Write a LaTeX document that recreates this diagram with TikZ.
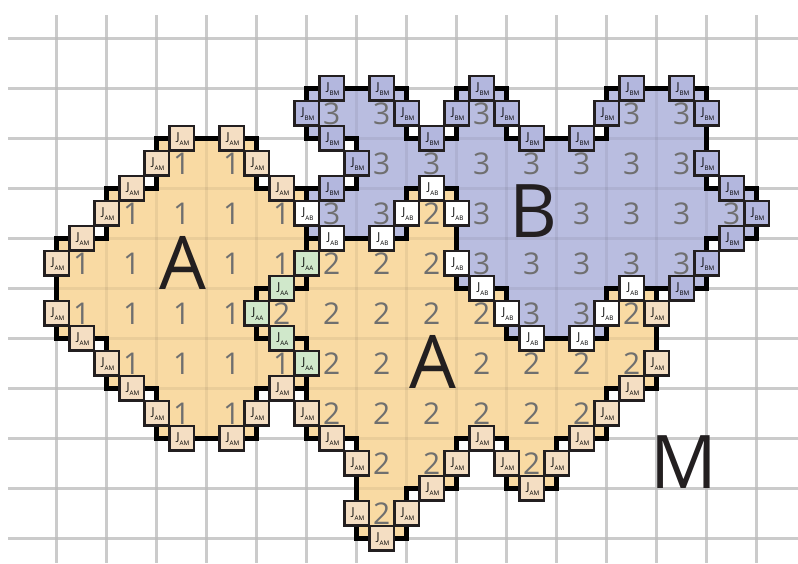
\documentclass[tikz,border=0pt]{standalone}
\usepackage{fontspec}
\setmainfont{Open Sans}
\definecolor{gridc}{HTML}{D8D8D8}
\definecolor{fillA}{HTML}{F9DAA3}
\definecolor{fillB}{HTML}{B9BDE0}
\definecolor{JAM}{HTML}{F4DEC3}
\definecolor{JBM}{HTML}{B3B7DE}
\definecolor{JAA}{HTML}{D0E8CB}
\definecolor{JAB}{HTML}{FFFFFF}
\definecolor{ink}{HTML}{231F20}
\definecolor{numc}{HTML}{6F6F6F}
% 11 rows x 16 columns: 0 = medium M, 1 and 2 = cells of type A, 3 = cell of type B
\def\cpmgrid{{%
0,0,0,0,0,0,0,0,0,0,0,0,0,0,0,0,%
0,0,0,0,0,0,3,3,0,3,0,0,3,3,0,0,%
0,0,0,1,1,0,0,3,3,3,3,3,3,3,0,0,%
0,0,1,1,1,1,3,3,2,3,3,3,3,3,3,0,%
0,1,1,1,1,1,2,2,2,3,3,3,3,3,0,0,%
0,1,1,1,1,2,2,2,2,2,3,3,2,0,0,0,%
0,0,1,1,1,1,2,2,2,2,2,2,2,0,0,0,%
0,0,0,1,1,0,2,2,2,2,2,2,0,0,0,0,%
0,0,0,0,0,0,0,2,2,0,2,0,0,0,0,0,%
0,0,0,0,0,0,0,2,0,0,0,0,0,0,0,0,%
0,0,0,0,0,0,0,0,0,0,0,0,0,0,0,0}}
\newcommand\jclass[2]{%
 \pgfmathtruncatemacro\jta{(#1==3)?2:((#1>0)?1:0)}%
 \pgfmathtruncatemacro\jtb{(#2==3)?2:((#2>0)?1:0)}%
 \pgfmathtruncatemacro\jcode{min(\jta,\jtb)*3+max(\jta,\jtb)}%
 \ifcase\jcode\def\jst{AM}\or\def\jst{AM}\or\def\jst{BM}\or\def\jst{AM}\or\def\jst{AA}\or\def\jst{AB}\else\def\jst{AM}\fi}
\newcommand\jlab[1]{\makebox[0pt]{\raisebox{-1.8pt}[0pt][0pt]{\hspace{2.5pt}\fontsize{11}{11}\selectfont J\raisebox{-5pt}{\fontsize{6.3}{6.3}\selectfont #1}}}}
\tikzset{
 gridline/.style={draw=gridc, line width=3pt},
 gridover/.style={draw=black, draw opacity=0.06, line width=3pt},
 bound/.style={draw=black, line width=4.8pt, line cap=rect},
 jbox/.style={draw=ink, line width=2.4pt, fill=J#1, minimum size=24.5pt, inner sep=0pt, outer sep=0pt},
 num/.style={text=numc, font=\fontsize{30}{30}\selectfont, inner sep=0pt},
 big/.style={text=ink, font=\fontsize{74}{74}\selectfont, inner sep=0pt},
}
\begin{document}
\begin{tikzpicture}[x=1pt,y=-1pt]
\useasboundingbox (0,0) rectangle (798,563);
% grid
\foreach \k in {0,...,10} \draw[gridline] (8,{38.3+50*\k}) -- (798,{38.3+50*\k});
\foreach \k in {0,...,14} \draw[gridline] ({56.7+50*\k},15) -- ({56.7+50*\k},563);
% cell fills
\foreach \rr in {1,...,9}{\foreach \cc in {0,...,15}{
  \pgfmathtruncatemacro\vid{\cpmgrid[\rr*16+\cc]}
  \ifnum\vid>0
    \ifnum\vid=3 \def\fc{fillB}\else\def\fc{fillA}\fi
    \fill[\fc, draw=\fc, line width=0.4pt] ({6.7+50*\cc},{38.3+50*\rr}) rectangle ++(50,50);
  \fi
}}
% faint grid over fills
\foreach \k in {0,...,10} \draw[gridover] (8,{38.3+50*\k}) -- (798,{38.3+50*\k});
\foreach \k in {0,...,14} \draw[gridover] ({56.7+50*\k},15) -- ({56.7+50*\k},563);
% numbers
\foreach \rr in {1,...,9}{\foreach \cc in {0,...,15}{
  \pgfmathtruncatemacro\vid{\cpmgrid[\rr*16+\cc]}
  \pgfmathtruncatemacro\jskip{((\rr==4)&&(\cc==3))||((\rr==6)&&(\cc==8))||((\rr==3)&&(\cc==10))}
  \ifnum\vid>0 \ifnum\jskip=0
    \node[num] (n-\rr-\cc) at ({31.7+50*\cc},{63.3+50*\rr}) {\vid};
  \fi\fi
}}
% big letters
\node[big] (bigA1) at (183,263.3) {A};
\node[big] (bigA2) at (433,362) {A};
\node[big] (bigB) at (533,211) {B};
\node[big] (bigM) at (684,462) {M};
% boundaries
\foreach \rr in {0,...,9}{\foreach \cc in {0,...,14}{
  \pgfmathtruncatemacro\ia{\rr*16+\cc}
  \pgfmathtruncatemacro\va{\cpmgrid[\ia]}
  \pgfmathtruncatemacro\vb{\cpmgrid[\ia+1]}
  \pgfmathtruncatemacro\vd{\cpmgrid[\ia+16]}
  \ifnum\va=\vb\else \draw[bound] ({56.7+50*\cc},{38.3+50*\rr}) -- ++(0,50);\fi
  \ifnum\va=\vd\else \draw[bound] ({6.7+50*\cc},{88.3+50*\rr}) -- ++(50,0);\fi
}}
% contact energy boxes
\foreach \rr in {0,...,9}{\foreach \cc in {0,...,14}{
  \pgfmathtruncatemacro\ia{\rr*16+\cc}
  \pgfmathtruncatemacro\va{\cpmgrid[\ia]}
  \pgfmathtruncatemacro\vb{\cpmgrid[\ia+1]}
  \pgfmathtruncatemacro\vd{\cpmgrid[\ia+16]}
  \ifnum\va=\vb\else \jclass{\va}{\vb}\node[jbox=\jst] (jv-\rr-\cc) at ({56.7+50*\cc},{63.3+50*\rr}) {\jlab{\jst}};\fi
  \ifnum\va=\vd\else \jclass{\va}{\vd}\node[jbox=\jst] (jh-\rr-\cc) at ({31.7+50*\cc},{88.3+50*\rr}) {\jlab{\jst}};\fi
}}
\end{tikzpicture}
\end{document}
